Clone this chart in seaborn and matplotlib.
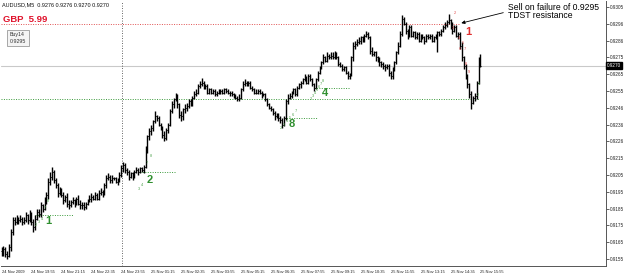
import numpy as np
import seaborn as sns
import matplotlib.pyplot as plt

# AUDUSD M5 bars, 24 Nov 18:35 -> 25 Nov 15:55 (one row = 16 bars = 80 min)
closes = [
    0.9159, 0.9161, 0.9158, 0.9157, 0.9162, 0.9171, 0.9178, 0.9177, 0.9179, 0.9178, 0.9179, 0.9177, 0.9178, 0.9181, 0.9178, 0.9182,
    0.9177, 0.9174, 0.9179, 0.9183, 0.9182, 0.9187, 0.9185, 0.9190, 0.9193, 0.9201, 0.9204, 0.9207, 0.9202, 0.9199, 0.9194, 0.9196,
    0.9193, 0.9190, 0.9192, 0.9188, 0.9187, 0.9189, 0.9190, 0.9188, 0.9191, 0.9188, 0.9187, 0.9187, 0.9186, 0.9188, 0.9190, 0.9191,
    0.9192, 0.9191, 0.9193, 0.9191, 0.9194, 0.9195, 0.9194, 0.9199, 0.9203, 0.9204, 0.9202, 0.9203, 0.9203, 0.9201, 0.9202, 0.9205,
    0.9209, 0.9211, 0.9208, 0.9207, 0.9204, 0.9206, 0.9204, 0.9207, 0.9208, 0.9207, 0.9209, 0.9208, 0.9210, 0.9220, 0.9228, 0.9231,
    0.9233, 0.9237, 0.9240, 0.9239, 0.9235, 0.9233, 0.9229, 0.9227, 0.9232, 0.9235, 0.9243, 0.9247, 0.9250, 0.9252, 0.9247, 0.9241,
    0.9240, 0.9244, 0.9245, 0.9246, 0.9249, 0.9247, 0.9251, 0.9253, 0.9254, 0.9258, 0.9259, 0.9260, 0.9257, 0.9258, 0.9254, 0.9256,
    0.9254, 0.9255, 0.9253, 0.9254, 0.9254, 0.9255, 0.9254, 0.9256, 0.9255, 0.9254, 0.9254, 0.9253, 0.9252, 0.9251, 0.9250, 0.9251,
    0.9256, 0.9259, 0.9260, 0.9259, 0.9260, 0.9257, 0.9256, 0.9254, 0.9254, 0.9255, 0.9254, 0.9253, 0.9253, 0.9250, 0.9247, 0.9245,
    0.9244, 0.9242, 0.9240, 0.9241, 0.9239, 0.9238, 0.9235, 0.9239, 0.9249, 0.9251, 0.9252, 0.9254, 0.9256, 0.9253, 0.9257, 0.9259,
    0.9260, 0.9262, 0.9263, 0.9260, 0.9264, 0.9262, 0.9259, 0.9257, 0.9262, 0.9266, 0.9269, 0.9272, 0.9275, 0.9273, 0.9276, 0.9275,
    0.9276, 0.9275, 0.9277, 0.9275, 0.9271, 0.9270, 0.9268, 0.9269, 0.9266, 0.9264, 0.9265, 0.9275, 0.9282, 0.9283, 0.9284, 0.9285,
    0.9287, 0.9285, 0.9288, 0.9289, 0.9287, 0.9279, 0.9277, 0.9278, 0.9275, 0.9273, 0.9272, 0.9271, 0.9270, 0.9269, 0.9270, 0.9266,
    0.9264, 0.9268, 0.9272, 0.9278, 0.9282, 0.9289, 0.9298, 0.9295, 0.9291, 0.9288, 0.9293, 0.9288, 0.9290, 0.9287, 0.9289, 0.9285,
    0.9288, 0.9287, 0.9285, 0.9288, 0.9287, 0.9288, 0.9285, 0.9287, 0.9288, 0.9290, 0.9289, 0.9291, 0.9293, 0.9294, 0.9296, 0.9297,
    0.9294, 0.9291, 0.9293, 0.9288, 0.9289, 0.9282, 0.9275, 0.9270, 0.9264, 0.9259, 0.9253, 0.9248, 0.9251, 0.9252, 0.9260, 0.9274, 0.9270,
]
highs = [
    0.9162, 0.9163, 0.9162, 0.9160, 0.9164, 0.9173, 0.9180, 0.9180, 0.9181, 0.9180, 0.9181, 0.9180, 0.9180, 0.9183, 0.9182, 0.9184,
    0.9183, 0.9179, 0.9181, 0.9185, 0.9185, 0.9189, 0.9188, 0.9192, 0.9195, 0.9203, 0.9207, 0.9210, 0.9208, 0.9203, 0.9200, 0.9198,
    0.9197, 0.9195, 0.9193, 0.9194, 0.9190, 0.9190, 0.9192, 0.9191, 0.9192, 0.9193, 0.9190, 0.9189, 0.9189, 0.9189, 0.9191, 0.9193,
    0.9194, 0.9193, 0.9195, 0.9194, 0.9196, 0.9197, 0.9196, 0.9200, 0.9205, 0.9206, 0.9205, 0.9205, 0.9204, 0.9204, 0.9203, 0.9207,
    0.9211, 0.9213, 0.9212, 0.9209, 0.9208, 0.9207, 0.9207, 0.9208, 0.9210, 0.9209, 0.9210, 0.9210, 0.9211, 0.9222, 0.9229, 0.9233,
    0.9235, 0.9238, 0.9243, 0.9241, 0.9240, 0.9236, 0.9234, 0.9231, 0.9233, 0.9236, 0.9244, 0.9249, 0.9251, 0.9254, 0.9253, 0.9248,
    0.9243, 0.9245, 0.9247, 0.9248, 0.9250, 0.9250, 0.9252, 0.9255, 0.9256, 0.9259, 0.9261, 0.9263, 0.9261, 0.9259, 0.9259, 0.9257,
    0.9257, 0.9256, 0.9256, 0.9255, 0.9256, 0.9256, 0.9256, 0.9257, 0.9257, 0.9256, 0.9255, 0.9255, 0.9254, 0.9253, 0.9252, 0.9253,
    0.9257, 0.9261, 0.9262, 0.9261, 0.9261, 0.9261, 0.9258, 0.9257, 0.9256, 0.9256, 0.9256, 0.9255, 0.9254, 0.9254, 0.9251, 0.9248,
    0.9246, 0.9245, 0.9243, 0.9242, 0.9242, 0.9240, 0.9239, 0.9240, 0.9250, 0.9253, 0.9254, 0.9255, 0.9257, 0.9257, 0.9258, 0.9260,
    0.9261, 0.9263, 0.9265, 0.9264, 0.9265, 0.9265, 0.9263, 0.9260, 0.9263, 0.9267, 0.9270, 0.9273, 0.9277, 0.9276, 0.9278, 0.9277,
    0.9278, 0.9278, 0.9279, 0.9278, 0.9276, 0.9272, 0.9271, 0.9270, 0.9270, 0.9267, 0.9266, 0.9276, 0.9284, 0.9285, 0.9286, 0.9287,
    0.9288, 0.9288, 0.9289, 0.9291, 0.9290, 0.9288, 0.9281, 0.9279, 0.9279, 0.9276, 0.9275, 0.9273, 0.9272, 0.9271, 0.9271, 0.9271,
    0.9267, 0.9269, 0.9273, 0.9279, 0.9284, 0.9291, 0.9300, 0.9299, 0.9296, 0.9292, 0.9294, 0.9294, 0.9291, 0.9291, 0.9290, 0.9290,
    0.9289, 0.9289, 0.9288, 0.9289, 0.9289, 0.9289, 0.9289, 0.9288, 0.9289, 0.9291, 0.9291, 0.9292, 0.9294, 0.9296, 0.9297, 0.9301,
    0.9298, 0.9296, 0.9294, 0.9294, 0.9290, 0.9290, 0.9284, 0.9276, 0.9271, 0.9265, 0.9260, 0.9255, 0.9252, 0.9254, 0.9261, 0.9275, 0.9277,
]
lows = [
    0.9157, 0.9157, 0.9156, 0.9155, 0.9156, 0.9160, 0.9169, 0.9175, 0.9176, 0.9176, 0.9177, 0.9175, 0.9176, 0.9177, 0.9176, 0.9177,
    0.9175, 0.9171, 0.9172, 0.9178, 0.9180, 0.9180, 0.9183, 0.9184, 0.9188, 0.9191, 0.9199, 0.9202, 0.9200, 0.9197, 0.9192, 0.9193,
    0.9192, 0.9188, 0.9189, 0.9186, 0.9185, 0.9186, 0.9188, 0.9186, 0.9187, 0.9187, 0.9185, 0.9185, 0.9184, 0.9185, 0.9187, 0.9189,
    0.9189, 0.9190, 0.9190, 0.9190, 0.9190, 0.9193, 0.9192, 0.9193, 0.9197, 0.9202, 0.9200, 0.9200, 0.9202, 0.9200, 0.9199, 0.9201,
    0.9204, 0.9207, 0.9206, 0.9205, 0.9202, 0.9203, 0.9202, 0.9203, 0.9206, 0.9205, 0.9206, 0.9207, 0.9206, 0.9209, 0.9218, 0.9226,
    0.9229, 0.9231, 0.9236, 0.9237, 0.9234, 0.9232, 0.9227, 0.9225, 0.9226, 0.9230, 0.9234, 0.9242, 0.9245, 0.9249, 0.9245, 0.9239,
    0.9237, 0.9238, 0.9242, 0.9243, 0.9245, 0.9246, 0.9246, 0.9250, 0.9252, 0.9253, 0.9257, 0.9258, 0.9256, 0.9256, 0.9253, 0.9253,
    0.9253, 0.9253, 0.9252, 0.9252, 0.9253, 0.9253, 0.9253, 0.9253, 0.9254, 0.9253, 0.9252, 0.9252, 0.9251, 0.9250, 0.9249, 0.9249,
    0.9250, 0.9255, 0.9258, 0.9258, 0.9258, 0.9256, 0.9255, 0.9253, 0.9253, 0.9253, 0.9253, 0.9251, 0.9252, 0.9249, 0.9246, 0.9244,
    0.9243, 0.9241, 0.9238, 0.9239, 0.9237, 0.9236, 0.9233, 0.9234, 0.9238, 0.9247, 0.9250, 0.9251, 0.9253, 0.9252, 0.9252, 0.9256,
    0.9257, 0.9259, 0.9261, 0.9259, 0.9259, 0.9261, 0.9258, 0.9255, 0.9256, 0.9261, 0.9265, 0.9268, 0.9271, 0.9272, 0.9272, 0.9274,
    0.9274, 0.9274, 0.9274, 0.9274, 0.9270, 0.9269, 0.9267, 0.9267, 0.9265, 0.9262, 0.9262, 0.9264, 0.9273, 0.9280, 0.9282, 0.9283,
    0.9283, 0.9284, 0.9284, 0.9287, 0.9286, 0.9277, 0.9276, 0.9276, 0.9273, 0.9272, 0.9270, 0.9269, 0.9268, 0.9267, 0.9268, 0.9264,
    0.9262, 0.9262, 0.9267, 0.9271, 0.9277, 0.9281, 0.9288, 0.9294, 0.9289, 0.9286, 0.9287, 0.9287, 0.9287, 0.9286, 0.9286, 0.9284,
    0.9284, 0.9286, 0.9283, 0.9284, 0.9286, 0.9286, 0.9284, 0.9284, 0.9286, 0.9278, 0.9288, 0.9288, 0.9290, 0.9292, 0.9293, 0.9295,
    0.9292, 0.9289, 0.9290, 0.9287, 0.9286, 0.9280, 0.9273, 0.9268, 0.9262, 0.9257, 0.9251, 0.9244, 0.9247, 0.9249, 0.9250, 0.9259, 0.9269,
]
first_open = 0.9160

time_labels = ['24 Nov 2009', '24 Nov 19:55', '24 Nov 21:15', '24 Nov 22:35', '24 Nov 23:55',
               '25 Nov 01:15', '25 Nov 02:35', '25 Nov 03:55', '25 Nov 05:15', '25 Nov 06:35',
               '25 Nov 07:55', '25 Nov 09:15', '25 Nov 10:35', '25 Nov 11:55', '25 Nov 13:15',
               '25 Nov 14:35', '25 Nov 15:55']
price_ticks = [0.9305, 0.9295, 0.9285, 0.9275, 0.9265, 0.9255, 0.9245, 0.9235,
               0.9225, 0.9215, 0.9205, 0.9195, 0.9185, 0.9175, 0.9165, 0.9155]
price_labels = ['0.9305', '0.9296', '0.9286', '0.9275', '0.9265', '0.9255', '0.9246', '0.9236',
                '0.9226', '0.9215', '0.9205', '0.9195', '0.9185', '0.9175', '0.9165', '0.9155']

tdst_resistance = 0.9295
tdst_support = 0.9250
last_price = 0.9270
day_break = 64.5

# TD setup levels (dotted green stubs)
setup_levels = [0.9181, 0.9207, 0.9239, 0.9257]
setup_start = [18, 74, 151, 167]
setup_end = [38, 93, 169, 186]

sns.set_theme(style='white')
plt.rcParams['font.family'] = ['Liberation Sans', 'DejaVu Sans']

W, H = 625, 276
fig = plt.figure(figsize=(W / 100, H / 100), dpi=100)
ax = fig.add_axes([1 / W, 10 / H, 605 / W, 265 / H])


def put(px, py, s, **kw):
    kw.setdefault('va', 'center')
    kw.setdefault('ha', 'left')
    fig.text(px / W, 1 - py / H, s, **kw)


x = np.arange(len(closes))
opens = [first_open] + closes[:-1]

# levels / separators behind bars
ax.axhline(last_price, color='#c9c9c9', lw=0.8, zorder=1)
ax.axvline(day_break, color='#333333', lw=0.6, ls=(0, (1, 2)), zorder=1)
ax.hlines(tdst_resistance, -0.3, 244.5, colors='#e05050', lw=0.7, linestyles=(0, (1, 1.5)), zorder=1)
ax.hlines(tdst_support, -0.3, 255, colors='#3a9a3a', lw=0.7, linestyles=(0, (1, 1.5)), zorder=1)
ax.hlines(setup_levels, setup_start, setup_end, colors='#3a9a3a', lw=0.7,
          linestyles=(0, (1, 1.5)), zorder=1)

# OHLC bars
ax.vlines(x, lows, highs, color='black', lw=1.0, zorder=3)
ax.hlines(opens, x - 0.5, x, color='black', lw=0.7, zorder=3)
ax.hlines(closes, x, x + 0.5, color='black', lw=0.7, zorder=3)

ax.set_xlim(-0.3, 323.1)
ax.set_ylim(0.915083, 0.930857)

ax.set_xticks(x[::16])
ax.set_xticklabels(time_labels, ha='left', fontsize=2.9)
ax.tick_params(axis='x', direction='out', length=2, width=0.5, pad=1, colors='#222222')
ax.yaxis.tick_right()
ax.set_yticks(price_ticks)
ax.set_yticklabels(price_labels, fontsize=3.3)
ax.tick_params(axis='y', direction='out', length=2, width=0.5, pad=1, colors='#222222')

for side in ['top', 'left']:
    ax.spines[side].set_visible(False)
for side in ['right', 'bottom']:
    ax.spines[side].set_color('#555555')
    ax.spines[side].set_linewidth(0.7)

# current price marker on the scale
ax.text(1.002, last_price, '0.9270', transform=ax.get_yaxis_transform(), fontsize=3.3,
        color='white', va='center', ha='left',
        bbox=dict(boxstyle='square,pad=0.2', fc='black', ec='black'))

# header / labels
put(2, 5, 'AUDUSD,M5  0.9276 0.9276 0.9270 0.9270', fontsize=4, color='#111111')
put(3, 20, 'GBP  5.99', fontsize=6.8, color='#e0102a', fontweight='bold')
put(10, 38, 'Buy14\n0.9295', fontsize=3.8, color='#333333', linespacing=1.3,
    bbox=dict(boxstyle='square,pad=0.5', fc='#f4f4f4', ec='#9a9a9a', lw=0.6))

# sell note
ax.annotate('', xy=(244.3, tdst_resistance), xytext=(506 / W, 1 - 12 / H),
            textcoords='figure fraction',
            arrowprops=dict(arrowstyle='-|>', color='black', lw=0.6, mutation_scale=5))
put(508, 7, 'Sell on failure of 0.9295', fontsize=6.2, color='black')
put(508, 16, 'TDST resistance', fontsize=6.2, color='black')

# TD counts
green = '#2f8f2f'
put(45, 221, '1', fontsize=8, color=green, fontweight='bold')
put(147, 180, '2', fontsize=8, color=green, fontweight='bold')
put(289, 124, '8', fontsize=8, color=green, fontweight='bold')
put(322, 93, '4', fontsize=8, color=green, fontweight='bold')
put(465, 32, '1', fontsize=8, color='#e03030', fontweight='bold')

small_green = [('2', 35, 225), ('3', 38, 222), ('4', 41, 219), ('7', 44, 208), ('8', 47, 201),
               ('3', 138, 189), ('4', 141, 185), ('7', 146, 163), ('8', 150, 156),
               ('2', 280, 128), ('3', 283, 125), ('4', 286, 121), ('5', 289, 118), ('6', 292, 115), ('7', 295, 111),
               ('2', 310, 99), ('3', 312, 96), ('4', 314, 93), ('5', 316, 90), ('6', 318, 87), ('7', 320, 84), ('8', 322, 81),
               ('3', 478, 84), ('2', 477, 95)]
for s, px, py in small_green:
    put(px, py, s, fontsize=2.8, color='#4aa04a')

small_red = [('2', 454, 13), ('3', 452, 28), ('4', 458, 38), ('5', 462, 43), ('6', 459, 49),
             ('7', 464, 49), ('8', 465, 64), ('9', 468, 72)]
for s, px, py in small_red:
    put(px, py, s, fontsize=2.8, color='#e04848')

fig.savefig('out.png', dpi=100, facecolor='white')
